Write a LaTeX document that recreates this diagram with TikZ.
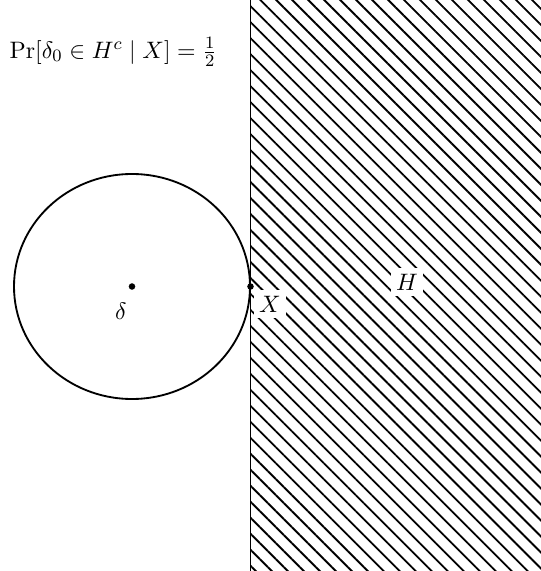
\documentclass[tikz,border=0pt]{standalone}
\usetikzlibrary{patterns.meta, positioning}

\begin{document}
\begin{tikzpicture}[
			x=0.46pt, y=-0.46pt,
			every node/.style={font=\fontsize{10.9}{13}\selectfont},
			hatch/.style={pattern={Lines[angle=-45, distance=5.2pt, line width=0.85pt]}},
			wall/.style={line width=0.9pt},
			ball/.style={line width=0.85pt},
			dot/.style={circle, fill=black, inner sep=0pt, minimum size=3pt},
			lbl/.style={fill=white, inner sep=2.5pt}
		]

		% --- AREA ---
		\useasboundingbox (0,0) rectangle (540,571);

		% --- SEMIPIANO H ---
		\fill [hatch] (250.5,0) rectangle (541,572);
		\draw [wall] (250.5,0) -- (250.5,571);

		% --- PALLA ---
		\node (center) [dot] at (132,286.5) {};
		\draw [ball] (center) ellipse [x radius=118, y radius=112.5];
		\node (delta) [below left=3pt and -2.3pt of center] {$\delta$};

		% --- PUNTO X ---
		\node (xpt) [dot] at (250.5,286.5) {};
		\node (xlbl) [lbl] at (270,304) {$X$};
		\node (hlbl) [lbl] at (407,282) {$H$};

		% --- TESTO ---
		\node (prob) [anchor=west] at (2,52) {$\Pr[\delta_0\in H^c \mid X] = \frac{1}{2}$};
	\end{tikzpicture}
\end{document}
